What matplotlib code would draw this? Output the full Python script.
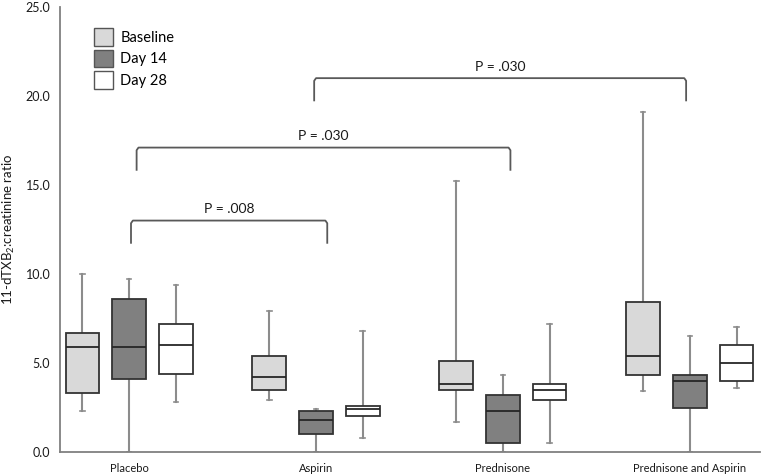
import numpy as np
import matplotlib
matplotlib.use('Agg')
import matplotlib.pyplot as plt
from matplotlib.patches import Patch

plt.rcParams['font.family'] = ['Lato', 'DejaVu Sans']
plt.rcParams['mathtext.fontset'] = 'custom'
plt.rcParams['mathtext.rm'] = 'Lato'
plt.rcParams['mathtext.it'] = 'Lato'

# Groups and series
groups = ['Placebo', 'Aspirin', 'Prednisone', 'Prednisone and Aspirin']
series = ['Baseline', 'Day 14', 'Day 28']

# Box stats (whisker low, q1, median, q3, whisker high)
baseline_lo = [2.3, 2.9, 1.7, 3.4]
baseline_q1 = [3.3, 3.5, 3.5, 4.3]
baseline_med = [5.9, 4.2, 3.8, 5.4]
baseline_q3 = [6.7, 5.4, 5.1, 8.4]
baseline_hi = [10.0, 7.9, 15.2, 19.1]

day14_lo = [0.0, 0.0, 0.0, 0.0]
day14_q1 = [4.1, 1.0, 0.5, 2.5]
day14_med = [5.9, 1.8, 2.3, 4.0]
day14_q3 = [8.6, 2.3, 3.2, 4.3]
day14_hi = [9.7, 2.4, 4.3, 6.5]

day28_lo = [2.8, 0.8, 0.5, 3.6]
day28_q1 = [4.4, 2.0, 2.9, 4.0]
day28_med = [6.0, 2.4, 3.5, 5.0]
day28_q3 = [7.2, 2.6, 3.8, 6.0]
day28_hi = [9.4, 6.8, 7.2, 7.0]

# Significance brackets
bracket_x0 = [0.01, 0.04, 0.99]
bracket_x1 = [1.06, 2.04, 2.98]
bracket_y = [13.0, 17.1, 21.0]
p_labels = ['P = .008', 'P = .030', 'P = .030']

all_stats = [
    (baseline_lo, baseline_q1, baseline_med, baseline_q3, baseline_hi),
    (day14_lo, day14_q1, day14_med, day14_q3, day14_hi),
    (day28_lo, day28_q1, day28_med, day28_q3, day28_hi),
]
fills = ['#d9d9d9', '#808080', '#ffffff']
offsets = [-0.25, 0.0, 0.25]

fig = plt.figure(figsize=(7.65, 4.75), dpi=100)
ax = fig.add_axes([0.0784, 0.0484, 0.915, 0.937])

x = np.arange(len(groups))
for (lo, q1, med, q3, hi), fc, off in zip(all_stats, fills, offsets):
    stats = [dict(whislo=lo[i], q1=q1[i], med=med[i], q3=q3[i], whishi=hi[i], fliers=[])
             for i in range(len(groups))]
    b = ax.bxp(stats, positions=x + off, widths=0.18, patch_artist=True,
               showfliers=False, capwidths=0.025, manage_ticks=False,
               boxprops=dict(facecolor=fc, edgecolor='#333333', linewidth=1.3),
               medianprops=dict(color='#262626', linewidth=1.3),
               whiskerprops=dict(color='#8c8c8c', linewidth=1.5),
               capprops=dict(color='#8c8c8c', linewidth=1.2))
    for w in b['whiskers']:
        w.set_zorder(1)

# brackets
drop = 1.3
for x0, x1, y, lab in zip(bracket_x0, bracket_x1, bracket_y, p_labels):
    ax.plot([x0, x0, x0 + 0.01, x1 - 0.01, x1, x1],
            [y - drop, y - 0.15, y, y, y - 0.15, y - drop],
            color='#595959', lw=1.3, solid_capstyle='butt')
    ax.text((x0 + x1) / 2, y + 0.3, lab, ha='center', va='bottom', fontsize=10, color='#1a1a1a')

ax.set_xlim(-0.37, 3.375)
ax.set_ylim(0, 25)
ax.set_yticks(np.arange(0, 25.1, 5))
ax.set_yticklabels([f'{v:.1f}' for v in np.arange(0, 25.1, 5)])
ax.set_xticks(x)
ax.set_xticklabels(groups)
ax.tick_params(axis='y', length=0, pad=7, labelsize=9, labelcolor='#1a1a1a')
ax.tick_params(axis='x', length=0, pad=8, labelsize=8, labelcolor='#1a1a1a')
ax.set_ylabel('11-dTXB$_2$:creatinine ratio', fontsize=9.5, color='#1a1a1a', labelpad=6)

for s in ['top', 'right']:
    ax.spines[s].set_visible(False)
for s in ['left', 'bottom']:
    ax.spines[s].set_color('#808080')
    ax.spines[s].set_linewidth(1.3)

handles = [Patch(facecolor=fc, edgecolor='#555555', linewidth=1.0) for fc in fills]
ax.legend(handles, series, loc='upper left', bbox_to_anchor=(0.0486, 0.953), frameon=False,
          fontsize=10.5, handlelength=1.3, handleheight=1.5, labelspacing=0.27,
          handletextpad=0.5, borderpad=0, borderaxespad=0)

fig.savefig('out.png', dpi=100)
